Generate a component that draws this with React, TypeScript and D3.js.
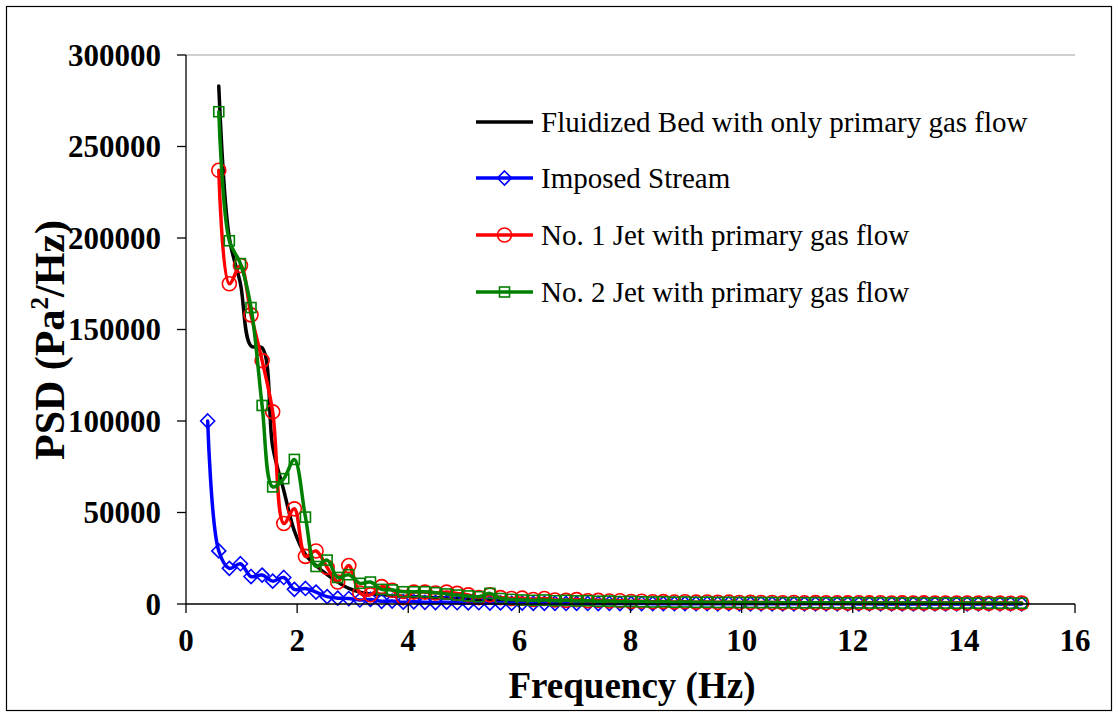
import React from "react";
import * as d3 from "d3";

const freqs = [0.39, 0.59, 0.78, 0.98, 1.17, 1.37, 1.56, 1.76, 1.95, 2.15, 2.34, 2.54, 2.73, 2.93, 3.13, 3.32, 3.52, 3.71, 3.91, 4.10, 4.30, 4.49, 4.69, 4.88, 5.08, 5.27, 5.47, 5.66, 5.86, 6.05, 6.25, 6.45, 6.64, 6.84, 7.03, 7.23, 7.42, 7.62, 7.81, 8.01, 8.20, 8.40, 8.59, 8.79, 8.98, 9.18, 9.38, 9.57, 9.77, 9.96, 10.16, 10.35, 10.55, 10.74, 10.94, 11.13, 11.33, 11.52, 11.72, 11.91, 12.11, 12.30, 12.50, 12.70, 12.89, 13.09, 13.28, 13.48, 13.67, 13.87, 14.06, 14.26, 14.45, 14.65, 14.84, 15.04];

const imposedStream = [
  100000, 29000, 19500, 22000, 15000, 15800, 12500, 14500, 8000, 8500,
  6500, 4000, 3200, 3000, 2200, 2500, 1500, 1600, 1000, 1200,
  900, 800, 1000, 700, 600, 700, 500, 600, 400, 500,
  400, 350, 400, 300, 350, 300, 250, 300, 250, 200,
  250, 200, 200, 150, 200, 150, 150, 120, 150, 120,
  100, 120, 100, 100, 80, 100, 80, 80, 70, 80,
  60, 70, 60, 60, 50, 60, 50, 50, 40, 50,
  40, 40, 40, 30, 40, 30,
];

const fluidizedBed = [
  283000, 200000, 175000, 141000, 140000, 86000, 62000, 40000, 27000, 21000,
  16000, 12000, 8500, 6500, 5500, 5200, 4500, 4300, 4000, 3700,
  3500, 3300, 3000, 2700, 2600, 2500, 2200, 2000, 1900, 1850,
  1700, 1600, 1500, 1450, 1300, 1200, 1150, 1000, 950, 900,
  850, 820, 750, 700, 680, 600, 580, 560, 540, 520,
  500, 480, 470, 440, 420, 400, 390, 380, 370, 360,
  350, 340, 330, 320, 310, 300, 290, 280, 270, 260,
  250, 240, 230, 220, 210,
];

const jet1 = [
  237000, 175000, 185000, 158000, 133000, 105000, 44000, 52000, 26000, 29000,
  20000, 12000, 21000, 6000, 5000, 9500, 7500, 3500, 6500, 6500,
  6000, 6500, 5800, 5000, 3500, 5000, 3500, 3000, 3200, 2500,
  3000, 2200, 2000, 2400, 1800, 2000, 1600, 1800, 1400, 1500,
  1200, 1300, 1100, 1200, 1000, 1100, 900, 1000, 800, 900,
  800, 850, 700, 800, 700, 750, 650, 700, 600, 650,
  600, 650, 550, 600, 550, 600, 500, 550, 500, 550,
  500, 450, 500, 450, 500,
];

const jet2 = [
  269000, 198500, 186000, 162000, 108500, 64000, 68500, 79000, 47500, 20500,
  24000, 14500, 16000, 11300, 12000, 8000, 7700, 6700, 6700, 6700,
  6200, 5500, 4900, 4400, 4000, 5800, 3000, 2500, 2200, 2000,
  2200, 1800, 2000, 1700, 1800, 1500, 1600, 1300, 1400, 1200,
  1100, 1200, 1000, 1100, 900, 1000, 850, 900, 800, 850,
  750, 800, 700, 750, 650, 700, 650, 600, 650, 600,
  550, 600, 550, 500, 550, 500, 480, 500, 450, 480,
  450, 420, 450, 400, 420,
];

const xTicks = [0, 2, 4, 6, 8, 10, 12, 14, 16];
const yTicks = [0, 50000, 100000, 150000, 200000, 250000, 300000];

const legendLabels = [
  "Fluidized Bed with only primary gas flow",
  "Imposed Stream",
  "No. 1 Jet with primary gas flow",
  "No. 2 Jet with primary gas flow",
];

type Pt = { f: number; v: number };

const FONT = "'Liberation Serif', 'Times New Roman', serif";

export default function App() {
  const x = d3.scaleLinear().domain([0, 16]).range([186, 1075]);
  const y = d3.scaleLinear().domain([0, 300000]).range([604, 55]);

  const mk = (vals: number[], offset: number): Pt[] =>
    vals.map((v, i) => ({ f: freqs[i + offset], v }));

  const series = [
    { name: legendLabels[0], color: "#000000", data: mk(fluidizedBed, 1), marker: "none" },
    { name: legendLabels[1], color: "#0000FF", data: mk(imposedStream, 0), marker: "diamond" },
    { name: legendLabels[2], color: "#FF0000", data: mk(jet1, 1), marker: "circle" },
    { name: legendLabels[3], color: "#008000", data: mk(jet2, 1), marker: "square" },
  ];

  const line = d3
    .line<Pt>()
    .x((d) => x(d.f))
    .y((d) => y(d.v))
    .curve(d3.curveCatmullRom.alpha(0.5));

  const marker = (type: string, cx: number, cy: number, color: string, key: string | number) => {
    if (type === "circle")
      return <circle key={key} cx={cx} cy={cy} r={7} fill="none" stroke={color} strokeWidth={1.6} />;
    if (type === "square")
      return <rect key={key} x={cx - 5} y={cy - 5} width={10} height={10} fill="none" stroke={color} strokeWidth={1.6} />;
    if (type === "diamond")
      return (
        <path key={key} d={`M${cx},${cy - 7}L${cx + 7},${cy}L${cx},${cy + 7}L${cx - 7},${cy}Z`} fill="none" stroke={color} strokeWidth={1.6} />
      );
    return null;
  };

  const legendY = [122, 178, 235, 292];

  return (
    <div style={{ position: "absolute", left: 0, top: 0 }}>
      <svg width={1118} height={717} style={{ display: "block" }}>
        <rect x={0} y={0} width={1118} height={717} fill="#fff" />
        <rect x={6.5} y={6.5} width={1105} height={704} fill="none" stroke="#000" strokeWidth={1.2} />
        {/* plot area border (top) */}
        <line x1={x(0)} x2={x(16)} y1={y(300000)} y2={y(300000)} stroke="#a0a0a0" strokeWidth={1} />

        {/* series */}
        {series.map((s, si) => (
          <g key={si}>
            <path d={line(s.data) || ""} fill="none" stroke={s.color} strokeWidth={3.5} strokeLinejoin="round" strokeLinecap="round" />
            {s.marker !== "none" && s.data.map((d, i) => marker(s.marker, x(d.f), y(d.v), s.color, i))}
          </g>
        ))}

        {/* axes */}
        <line x1={x(0)} x2={x(0)} y1={y(300000)} y2={y(0)} stroke="#000" strokeWidth={1.3} />
        <line x1={x(0)} x2={x(16)} y1={y(0)} y2={y(0)} stroke="#000" strokeWidth={1.3} />
        {yTicks.map((t) => (
          <g key={t}>
            <line x1={x(0) - 9} x2={x(0)} y1={y(t)} y2={y(t)} stroke="#000" strokeWidth={1.3} />
            <text x={161} y={y(t)} dy="0.35em" textAnchor="end" fontFamily={FONT} fontWeight="bold" fontSize={31}>
              {t}
            </text>
          </g>
        ))}
        {xTicks.map((t) => (
          <g key={t}>
            <line x1={x(t)} x2={x(t)} y1={y(0)} y2={y(0) + 9} stroke="#000" strokeWidth={1.3} />
            <text x={x(t)} y={651} textAnchor="middle" fontFamily={FONT} fontWeight="bold" fontSize={31}>
              {t}
            </text>
          </g>
        ))}

        <text x={632} y={698} textAnchor="middle" fontFamily={FONT} fontWeight="bold" fontSize={37}>
          Frequency (Hz)
        </text>
        <text transform="translate(64,340) rotate(-90)" textAnchor="middle" fontFamily={FONT} fontWeight="bold" fontSize={42}>
          PSD (Pa<tspan dy={-16} fontSize={25}>2</tspan>
          <tspan dy={16}>/Hz)</tspan>
        </text>

        {/* legend */}
        {series.map((s, i) => (
          <g key={i}>
            <line x1={476} x2={533} y1={legendY[i]} y2={legendY[i]} stroke={s.color} strokeWidth={3.5} />
            {marker(s.marker, 504.5, legendY[i], s.color, "m")}
            <text x={541} y={legendY[i] + 10} fontFamily={FONT} fontSize={29}>
              {s.name}
            </text>
          </g>
        ))}
      </svg>
    </div>
  );
}
